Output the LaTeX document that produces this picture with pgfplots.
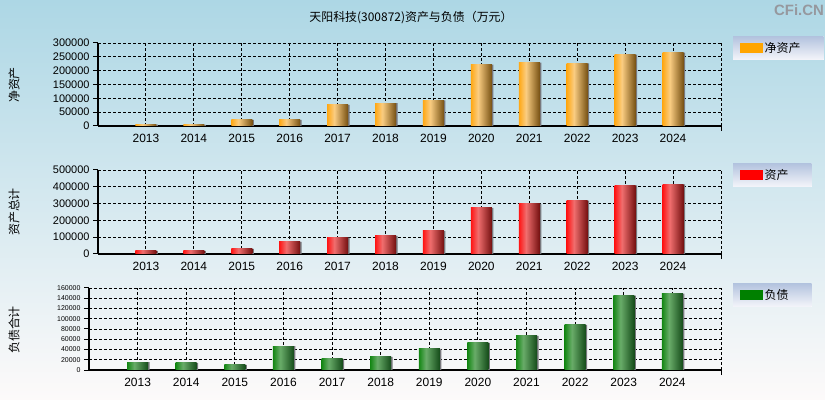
\documentclass[border=0pt]{standalone}
\usepackage{fontspec}
\setmainfont{Liberation Sans}
\newfontfamily\cjk{Noto Sans CJK SC}
\usepackage{pgfplots}
\pgfplotsset{compat=1.18}

\definecolor{bgtop}{RGB}{173,215,229}
\definecolor{bgbot}{RGB}{253,250,250}
\definecolor{legtop}{RGB}{178,194,222}
\definecolor{legbot}{RGB}{244,245,250}
\definecolor{barshadow}{RGB}{120,120,125}
\definecolor{orL}{RGB}{255,168,20}
\definecolor{orM}{RGB}{250,205,130}
\definecolor{orR}{RGB}{118,80,18}
\definecolor{rdL}{RGB}{255,20,20}
\definecolor{rdM}{RGB}{240,110,110}
\definecolor{rdR}{RGB}{115,15,15}
\definecolor{grL}{RGB}{20,135,20}
\definecolor{grM}{RGB}{105,172,105}
\definecolor{grR}{RGB}{20,75,25}
\definecolor{legor}{RGB}{255,165,0}
\definecolor{legrd}{RGB}{255,0,0}
\definecolor{leggr}{RGB}{0,128,0}

% TikZ maps the 25bp..75bp band of a shading onto the path
\pgfdeclarehorizontalshading{orbar}{100bp}{color(0bp)=(orL); color(25bp)=(orL); color(42bp)=(orM); color(75bp)=(orR); color(100bp)=(orR)}
\pgfdeclarehorizontalshading{rdbar}{100bp}{color(0bp)=(rdL); color(25bp)=(rdL); color(42bp)=(rdM); color(75bp)=(rdR); color(100bp)=(rdR)}
\pgfdeclarehorizontalshading{grbar}{100bp}{color(0bp)=(grL); color(25bp)=(grL); color(42bp)=(grM); color(75bp)=(grR); color(100bp)=(grR)}

\pgfplotstableread{
year value
2013 5000
2014 4500
2015 22000
2016 22000
2017 76000
2018 83000
2019 93000
2020 222000
2021 229000
2022 226000
2023 258000
2024 265000
}\netassets

\pgfplotstableread{
year value
2013 18000
2014 18000
2015 30000
2016 72000
2017 98000
2018 108000
2019 137500
2020 275000
2021 299000
2022 317000
2023 408000
2024 414000
}\assets

\pgfplotstableread{
year value
2013 15600
2014 13700
2015 9800
2016 46800
2017 21500
2018 25400
2019 41100
2020 52900
2021 66600
2022 88200
2023 145000
2024 149000
}\liabs

\pgfplotsset{
  cfi/.style={
    scale only axis,
    xmin=2012, xmax=2025, ymin=0,
    axis x line=bottom, axis y line=left,
    axis line style={-, line width=1.3bp},
    xtick={2013,...,2024},
    xtick style={draw=none},
    extra x ticks={2025}, extra x tick labels={},
    extra x tick style={grid=major, xtick style={draw=black, line width=1bp}, major tick length=5bp},
    tick align=outside,
    ytick style={black, line width=1bp},
    major tick length=5bp,
    xmajorgrids, ymajorgrids,
    grid style={black, line width=0.9bp, dash pattern=on 3bp off 2bp},
    /pgf/number format/assume math mode=true,
    xticklabel style={font=\fontsize{12}{14}\selectfont, /pgf/number format/1000 sep={}},
    scaled y ticks=false,
    yticklabel style={/pgf/number format/fixed, /pgf/number format/1000 sep={}},
    legend style={at={(rel axis cs:1,1)}, anchor=north west, xshift=12bp, yshift=7bp,
      draw=none, top color=legtop, bottom color=legbot,
      font=\cjk\fontsize{12}{15}\selectfont, inner xsep=7bp, inner ysep=4bp},
    legend cell align=left,
  },
  barshadow/.style={forget plot, ybar, bar width=21bp, bar shift=1.5bp, fill=barshadow, draw=none},
  onebar/.style 2 args={forget plot, ybar, bar width=21bp, bar shift=0pt, draw=none,
    shading=#2, restrict x to domain=#1:#1},
}

\begin{document}
\begin{tikzpicture}
\useasboundingbox (0,0) rectangle (825bp,400bp);
\shade[top color=bgtop, bottom color=bgbot] (0,0) rectangle (825bp,400bp);

\node[font=\cjk\fontsize{12}{14}\selectfont] at (411bp,382bp) {天阳科技(300872)资产与负债（万元）};
\node[font=\bfseries\fontsize{15}{15}\selectfont, text={rgb,255:red,150;green,152;blue,158}] at (799bp,390bp) {CFi.CN};

% net assets
\begin{axis}[cfi, at={(98bp,274bp)}, anchor=south west, width=623bp, height=83bp,
  ymax=300000, ytick={0,50000,...,300000},
  yticklabel style={font=\fontsize{11}{12}\selectfont}]
  \addplot[barshadow] table[x=year, y=value] {\netassets};
  \pgfplotsinvokeforeach{2013,...,2024}{
    \addplot[onebar={#1}{orbar}] table[x=year, y=value] {\netassets};
  }
  \addlegendimage{legend image code/.code={\fill[legor] (0bp,-4.5bp) rectangle (22bp,4.5bp);}}
  \addlegendentry{\makebox[50bp][l]{净资产}}
\end{axis}

% total assets
\begin{axis}[cfi, at={(98bp,146bp)}, anchor=south west, width=623bp, height=84bp,
  ymax=500000, ytick={0,100000,...,500000},
  yticklabel style={font=\fontsize{11}{12}\selectfont}]
  \addplot[barshadow] table[x=year, y=value] {\assets};
  \pgfplotsinvokeforeach{2013,...,2024}{
    \addplot[onebar={#1}{rdbar}] table[x=year, y=value] {\assets};
  }
  \addlegendimage{legend image code/.code={\fill[legrd] (0bp,-4.5bp) rectangle (22bp,4.5bp);}}
  \addlegendentry{\makebox[38bp][l]{资产}}
\end{axis}

% liabilities
\begin{axis}[cfi, at={(89bp,30bp)}, anchor=south west, width=632bp, height=82bp,
  ymax=160000, ytick={0,20000,...,160000},
  yticklabel style={font=\fontsize{7}{8}\selectfont},
  legend style={yshift=-2bp}]
  \addplot[barshadow] table[x=year, y=value] {\liabs};
  \pgfplotsinvokeforeach{2013,...,2024}{
    \addplot[onebar={#1}{grbar}] table[x=year, y=value] {\liabs};
  }
  \addlegendimage{legend image code/.code={\fill[leggr] (0bp,-4.5bp) rectangle (22bp,4.5bp);}}
  \addlegendentry{\makebox[38bp][l]{负债}}
\end{axis}

\node[font=\cjk\fontsize{12}{14}\selectfont, rotate=90] at (14bp,315bp) {净资产};
\node[font=\cjk\fontsize{12}{14}\selectfont, rotate=90] at (14bp,188bp) {资产总计};
\node[font=\cjk\fontsize{12}{14}\selectfont, rotate=90] at (14bp,70bp) {负债合计};
\end{tikzpicture}
\end{document}
